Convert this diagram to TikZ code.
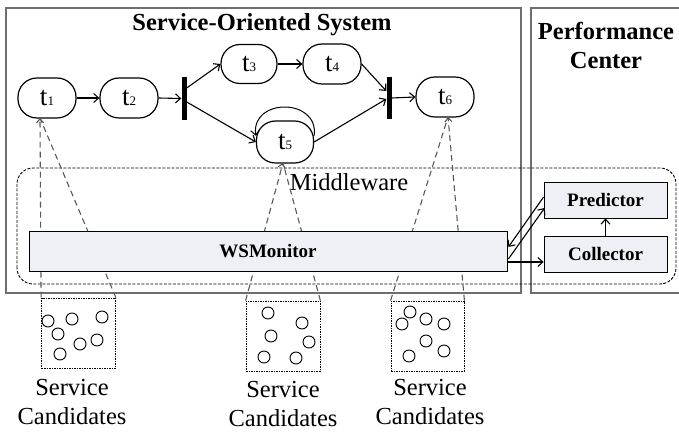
\documentclass[tikz,border=0pt]{standalone}
\usepackage{fontspec}
\setmainfont{Liberation Serif}
\usetikzlibrary{arrows.meta,calc}

\definecolor{boxfill}{RGB}{238,240,245}
\definecolor{framegray}{RGB}{110,110,110}

\newcommand{\tlabel}[1]{t\raisebox{-0.5pt}{\fontsize{13}{13}\selectfont #1}}

\tikzset{
  task/.style={draw, line width=1.2pt, rounded corners=19pt, minimum width=58pt,
               minimum height=40pt, inner sep=0pt, font=\fontsize{27}{30}\selectfont},
  bar/.style={fill=black, draw=none, minimum width=5pt, inner sep=0pt},
  flow/.style={line width=1.1pt, -{Straight Barb[length=5pt,width=9pt]}},
  comp/.style={draw, line width=0.8pt, fill=boxfill, inner sep=0pt,
               font=\fontsize{19}{22}\selectfont\bfseries},
  link/.style={line width=1.1pt, dash pattern=on 6pt off 4pt, black!65},
  linkhead/.style={link, -{Straight Barb[length=4pt,width=7pt]}},
  pool/.style={draw, line width=0.8pt, dash pattern=on 1.5pt off 1pt, inner sep=0pt,
               minimum width=74pt, minimum height=70pt},
  svc/.style={draw, line width=0.9pt, circle, minimum size=12pt, inner sep=0pt},
  title/.style={font=\fontsize{24.5}{29}\selectfont\bfseries, align=center},
  caption/.style={font=\fontsize{24.5}{29.5}\selectfont, align=center},
}

\begin{document}
\begin{tikzpicture}[x=1pt,y=1pt]
\useasboundingbox (0,0) rectangle (679,431);

% system frames
\draw[framegray, line width=1.2pt] (6,138) rectangle (521,423);
\draw[framegray, line width=1.2pt] (679,423) -- (531,423) -- (531,138) -- (679,138);
\node[title] (sostitle) at (262,406) {Service-Oriented System};
\node[title] (pctitle) at (606,386) {Performance\\Center};

% middleware region
\draw[line width=0.9pt, dash pattern=on 3pt off 1.5pt, rounded corners=16pt]
  (17,147) rectangle (676,263);
\node[font=\fontsize{24.5}{29}\selectfont] (mw) at (349,249) {Middleware};

% workflow tasks
\node[task] (t1) at (47,333) {\tlabel{1}};
\node[task] (t2) at (129,333) {\tlabel{2}};
\node[task, minimum width=56pt, minimum height=39pt] (t3) at (249,367) {\tlabel{3}};
\node[task] (t4) at (332,367) {\tlabel{4}};
\node[task, minimum width=57pt, minimum height=42pt] (t5) at (285,289) {\tlabel{5}};
\node[task] (t6) at (445,334) {\tlabel{6}};
\node[bar, minimum height=43pt] (bar1) at (184,332.5) {};
\node[bar, minimum height=42pt] (bar2) at (389,333) {};

% candidate pools
\node[pool] (p1) at (78.5,98) {};
\node[pool] (p2) at (283,95) {};
\node[pool, minimum width=73pt] (p3) at (427.5,95) {};

% links from candidate pools up to their tasks
\coordinate (t1b) at (40,313);
\coordinate (t5b) at (283,268);
\coordinate (t6b) at (448,314);
\draw[linkhead] (p1.north west) -- (t1b);
\draw[link] (p1.north east) -- (t1b);
\draw[linkhead] (p2.north west) -- (t5b);
\draw[link] (p2.north east) -- (t5b);
\draw[linkhead] (p3.north east) -- (t6b);
\draw[link] (p3.north west) -- (t6b);

% workflow arrows
\draw[flow] (t1.east) -- (t2.west);
\draw[flow] (t2.east) -- (bar1.west);
\draw[flow] ($(bar1.east)+(0,10.5)$) -- (t3.west);
\draw[flow] ($(bar1.east)+(0,-3.5)$) -- (t5.west);
\draw[flow] (t3.east) -- (t4.west);
\draw[flow] (t4.east) -- ($(bar2.west)+(0,7)$);
\draw[flow] (t5.east) -- ($(bar2.west)+(0,-1)$);
\draw[flow] (bar2.east) -- (t6.west);
\draw[line width=1pt, -{Straight Barb[length=5pt,width=9pt]}]
  (t5.12) to[out=82,in=98,looseness=1.7] (t5.168);

% monitoring components
\node[comp, minimum width=478pt, minimum height=40pt] (wsm) at (268,180) {WSMonitor};
\node[comp, minimum width=123pt, minimum height=36pt] (pred) at (605.5,231) {Predictor};
\node[comp, minimum width=123pt, minimum height=36pt] (coll) at (605.5,177) {Collector};

\draw[flow] ($(pred.west)+(0,3)$) -- ($(wsm.east)+(1,4)$);
\draw[flow] ($(wsm.east)+(1,-8)$) -- ($(pred.west)+(1,-8)$);
\draw[flow] ($(wsm.east)+(0,-11)$) -- ($(coll.west)+(0,-8)$);
\draw[flow] (coll.north) -- (pred.south);

% services inside each pool
\foreach \x/\y [count=\i] in {48/110,72/112,102/114,58/97,80/87,97/91,60/77}
  \node[svc] (sa\i) at (\x,\y) {};
\foreach \x/\y [count=\i] in {268/118,302/108,271/95,309/89,264/74,296/73}
  \node[svc] (sb\i) at (\x,\y) {};
\foreach \x/\y [count=\i] in {410/119,402/107,426/112,444/107,426/90,444/80,409/75}
  \node[svc] (sc\i) at (\x,\y) {};

% pool captions
\node[caption] (c1) at (72,29) {Service\\Candidates};
\node[caption] (c2) at (283,27) {Service\\Candidates};
\node[caption] (c3) at (430,29) {Service\\Candidates};
\end{tikzpicture}
\end{document}
